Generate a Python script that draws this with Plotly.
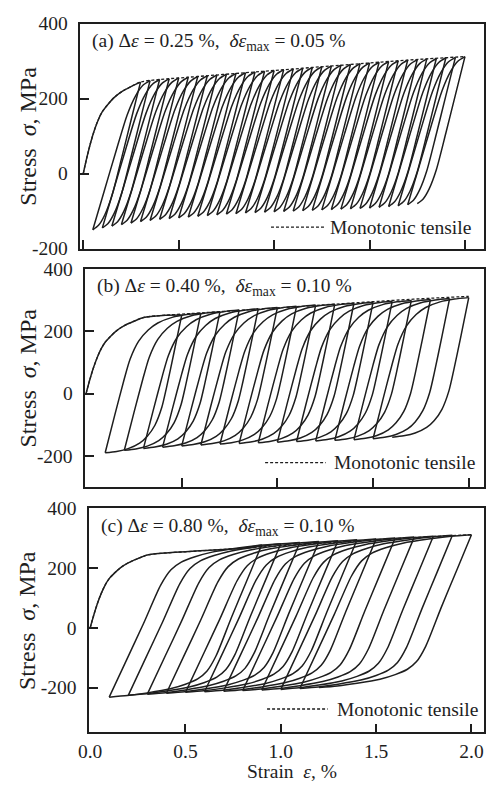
import plotly.graph_objects as go

# ---------------- data ----------------
mono_strain = [0, 0.02, 0.04, 0.06, 0.08, 0.10, 0.13, 0.16, 0.20, 0.25, 0.30, 0.40,
               0.50, 0.60, 0.80, 1.00, 1.20, 1.40, 1.60, 1.80, 2.00]
mono_stress = [0, 45, 85, 118, 145, 165, 185, 202, 218, 232, 244, 251,
               255, 259, 267, 275, 283, 291, 299, 306, 312]

# (a) strain range 0.25 %, increment 0.05 %
a_peak_strain = [0.30, 0.35, 0.40, 0.45, 0.50, 0.55, 0.60, 0.65, 0.70, 0.75, 0.80, 0.85,
                 0.90, 0.95, 1.00, 1.05, 1.10, 1.15, 1.20, 1.25, 1.30, 1.35, 1.40, 1.45,
                 1.50, 1.55, 1.60, 1.65, 1.70, 1.75, 1.80, 1.85, 1.90, 1.95, 2.00]
a_peak_stress = [244, 248, 251, 253, 255, 257, 259, 261, 263, 265, 267, 269,
                 271, 273, 275, 277, 279, 281, 283, 285, 287, 289, 291, 293,
                 295, 297, 299, 301, 303, 304, 306, 307, 309, 310, 312]
a_valley_strain = [0.05, 0.10, 0.15, 0.20, 0.25, 0.30, 0.35, 0.40, 0.45, 0.50, 0.55, 0.60,
                   0.65, 0.70, 0.75, 0.80, 0.85, 0.90, 0.95, 1.00, 1.05, 1.10, 1.15, 1.20,
                   1.25, 1.30, 1.35, 1.40, 1.45, 1.50, 1.55, 1.60, 1.65, 1.70, 1.75]
a_valley_stress = [-150, -145, -140, -136, -132, -128, -125, -122, -120, -118, -116, -114,
                   -112, -110, -108, -107, -105, -104, -103, -102, -101, -100, -99, -98,
                   -97, -96, -95, -94, -93, -92, -90, -88, -86, -83, -80]
a_shape_u = [0, 0.20, 0.40, 0.60, 0.75, 0.88, 1.0]
a_shape_w = [0, 0.26, 0.52, 0.77, 0.90, 0.97, 1.0]

# (b) strain range 0.40 %, increment 0.10 %
b_peak_strain = [0.5, 0.6, 0.7, 0.8, 0.9, 1.0, 1.1, 1.2, 1.3, 1.4, 1.5, 1.6, 1.7, 1.8, 1.9, 2.0]
b_peak_stress = [252, 258, 263, 268, 272, 276, 280, 284, 287, 290, 293, 296, 299, 302, 305, 308]
b_valley_strain = [0.1, 0.2, 0.3, 0.4, 0.5, 0.6, 0.7, 0.8, 0.9, 1.0, 1.1, 1.2, 1.3, 1.4, 1.5, 1.6]
b_valley_stress = [-190, -182, -176, -172, -168, -165, -162, -160, -158, -156, -154, -152,
                   -150, -148, -145, -140]
b_shape_u = [0, 0.10, 0.20, 0.26, 0.35, 0.45, 0.55, 0.70, 0.85, 1.0]
b_shape_w = [0, 0.27, 0.53, 0.67, 0.80, 0.88, 0.93, 0.97, 0.99, 1.0]

# (c) strain range 0.80 %, increment 0.10 %
c_peak_strain = [0.9, 1.0, 1.1, 1.2, 1.3, 1.4, 1.5, 1.6, 1.7, 1.8, 1.9, 2.0]
c_peak_stress = [278, 282, 286, 289, 292, 295, 298, 301, 304, 307, 310, 312]
c_valley_strain = [0.1, 0.2, 0.3, 0.4, 0.5, 0.6, 0.7, 0.8, 0.9, 1.0, 1.1, 1.2]
c_valley_stress = [-232, -226, -222, -219, -216, -214, -212, -210, -208, -206, -203, -200]
c_shape_u = [0, 0.10, 0.20, 0.30, 0.36, 0.42, 0.50, 0.60, 0.75, 0.88, 1.0]
c_shape_w = [0, 0.24, 0.48, 0.73, 0.83, 0.88, 0.915, 0.945, 0.972, 0.99, 1.0]

panel_labels = [
    "(a) Δ<i>ε</i> = 0.25 %,  <i>δε</i><sub>max</sub> = 0.05 %",
    "(b) Δ<i>ε</i> = 0.40 %,  <i>δε</i><sub>max</sub> = 0.10 %",
    "(c) Δ<i>ε</i> = 0.80 %,  <i>δε</i><sub>max</sub> = 0.10 %",
]
x_tick_vals = [0.0, 0.5, 1.0, 1.5, 2.0]
x_tick_text = ["0.0", "0.5", "1.0", "1.5", "2.0"]
y_tick_vals = [-200, 0, 200, 400]
y_tick_text = ["-200", "0", "200", "400"]

# ---------------- build curves ----------------
def branch(e0, s0, e1, s1, u, w):
    xs = [e0 + ui * (e1 - e0) for ui in u]
    ys = [s0 + wi * (s1 - s0) for wi in w]
    return xs, ys

def hysteresis(ps, pst, vs, vst, u, w):
    X, Y = [], []
    fx = [e for e in mono_strain if e < ps[0]] + [ps[0]]
    fy = [s for e, s in zip(mono_strain, mono_stress) if e < ps[0]] + [pst[0]]
    X += fx + [None]
    Y += fy + [None]
    for k in range(len(ps)):
        bx, by = branch(ps[k], pst[k], vs[k], vst[k], u, w)
        X += bx + [None]
        Y += by + [None]
        if k + 1 < len(ps):
            bx, by = branch(vs[k], vst[k], ps[k + 1], pst[k + 1], u, w)
            X += bx + [None]
            Y += by + [None]
    return X, Y

panels = [
    (a_peak_strain, a_peak_stress, a_valley_strain, a_valley_stress, a_shape_u, a_shape_w),
    (b_peak_strain, b_peak_stress, b_valley_strain, b_valley_stress, b_shape_u, b_shape_w),
    (c_peak_strain, c_peak_stress, c_valley_strain, c_valley_stress, c_shape_u, c_shape_w),
]

W, H = 486, 794
INK = "#1e1e1e"
FONT = "Liberation Serif"
FS = 19.5

# pixel frames: (left, top, bottom), x range, y range
frames = [
    (71, 14, 245, [-0.015, 2.10], [-200, 400]),
    (76, 266, 490, [-0.004, 2.08], [-300, 400]),
    (80, 512, 742, [-0.005, 2.066], [-350, 400]),
]
right_px = 484

fig = go.Figure()
layout = dict(width=W, height=H, margin=dict(l=0, r=0, t=0, b=0),
              plot_bgcolor="white", paper_bgcolor="white", showlegend=False,
              font=dict(family=FONT, size=FS, color=INK))
annotations = []
shapes = []

for i, (p, fr) in enumerate(zip(panels, frames)):
    n = "" if i == 0 else str(i + 1)
    xa, ya = "x" + n, "y" + n
    X, Y = hysteresis(*p)
    fig.add_trace(go.Scatter(x=X, y=Y, mode="lines", xaxis=xa, yaxis=ya,
                             line=dict(color=INK, width=1.5, shape="spline", smoothing=0.7),
                             connectgaps=False, hoverinfo="skip"))
    fig.add_trace(go.Scatter(x=mono_strain, y=mono_stress, mode="lines", xaxis=xa, yaxis=ya,
                             line=dict(color=INK, width=1.3, dash="3px,2px", shape="spline"),
                             hoverinfo="skip"))
    left, top, bot, xr, yr = fr
    dom_x = [left / W, right_px / W]
    dom_y = [1 - bot / H, 1 - top / H]
    axcommon = dict(showline=True, mirror=True, linecolor=INK, linewidth=1.5,
                    ticks="inside", ticklen=9, tickwidth=1.5, tickcolor=INK,
                    showgrid=False, zeroline=False)
    layout["xaxis" + n] = dict(domain=dom_x, range=xr, anchor=ya,
                               tickvals=x_tick_vals, ticktext=x_tick_text,
                               showticklabels=(i == 2), **axcommon)
    layout["yaxis" + n] = dict(domain=dom_y, range=yr, anchor=xa,
                               tickvals=y_tick_vals, ticktext=y_tick_text,
                               ticklabelstandoff=7, **axcommon)
    annotations.append(dict(text=panel_labels[i], xref="paper", yref="paper",
                            x=(left + 10) / W, y=1 - (top + 19) / H,
                            xanchor="left", yanchor="middle", showarrow=False,
                            font=dict(size=FS)))
    annotations.append(dict(text="Stress  <i>σ</i>, MPa", xref="paper", yref="paper",
                            x=17 / W, y=1 - (top + bot) / 2 / H, textangle=-90,
                            xanchor="center", yanchor="middle", showarrow=False,
                            font=dict(size=24)))
    ly = [223, 465, 718][i]
    lx0, lx1, tx = [(266, 321, 324), (260, 322, 328), (262, 324, 331)][i]
    shapes.append(dict(type="line", xref="paper", yref="paper",
                       x0=lx0 / W, x1=lx1 / W, y0=1 - ly / H, y1=1 - ly / H,
                       line=dict(color=INK, width=1.3, dash="3px,2px")))
    annotations.append(dict(text="Monotonic tensile", xref="paper", yref="paper",
                            x=tx / W, y=1 - ly / H, xanchor="left", yanchor="middle",
                            showarrow=False, font=dict(size=FS)))

annotations.append(dict(text="Strain  <i>ε</i>, %", xref="paper", yref="paper",
                        x=287 / W, y=1 - 782 / H, xanchor="center", yanchor="middle",
                        showarrow=False, font=dict(size=FS)))
layout["annotations"] = annotations
layout["shapes"] = shapes
fig.update_layout(**layout)
fig.write_html("out.html")
